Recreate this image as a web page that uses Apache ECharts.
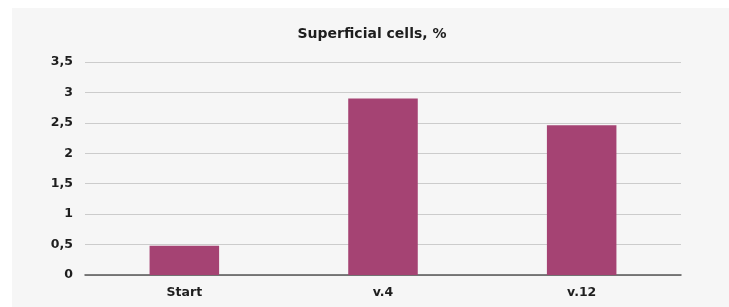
<!DOCTYPE html>
<html>
<head>
<meta charset="utf-8">
<script src="https://cdn.jsdelivr.net/npm/echarts@6/dist/echarts.min.js"></script>
<style>html,body{margin:0;padding:0;background:#fff;}#c{width:729px;height:307px;}</style>
</head>
<body>
<div id="c"></div>
<script>
const categories = ['Start', 'v.4', 'v.12'];
const values = [0.48, 2.90, 2.46];
const titleText = 'Superficial cells, %';

const chart = echarts.init(document.getElementById('c'), null, {renderer: 'canvas'});
const font = '"DejaVu Sans", sans-serif';
chart.setOption({
  backgroundColor: '#ffffff',
  animation: false,
  graphic: [{
    type: 'rect', z: -10, silent: true,
    shape: {x: 12, y: 8, width: 717, height: 299},
    style: {fill: '#f6f6f6'}
  }],
  title: {
    text: titleText, left: 367, top: 22, textAlign: 'center',
    textStyle: {fontFamily: font, fontWeight: 'bold', fontSize: 14, color: '#1e1e1e'}
  },
  grid: {left: 85, right: 48, top: 62, bottom: 32, containLabel: false},
  xAxis: {
    type: 'category', data: categories,
    axisLine: {lineStyle: {color: '#555', width: 1.5}},
    axisTick: {show: false},
    axisLabel: {fontFamily: font, fontWeight: 'bold', fontSize: 12.5, color: '#1e1e1e', margin: 11}
  },
  yAxis: {
    type: 'value', min: 0, max: 3.5, interval: 0.5,
    axisLine: {show: false}, axisTick: {show: false},
    splitLine: {lineStyle: {color: '#cccccc', width: 1}},
    axisLabel: {
      fontFamily: font, fontWeight: 'bold', fontSize: 12.5, color: '#1e1e1e', margin: 12,
      formatter: v => String(v).replace('.', ',')
    }
  },
  series: [{
    type: 'bar', data: values, barWidth: '35%',
    itemStyle: {color: '#a54373'}
  }]
});
</script>
</body>
</html>
